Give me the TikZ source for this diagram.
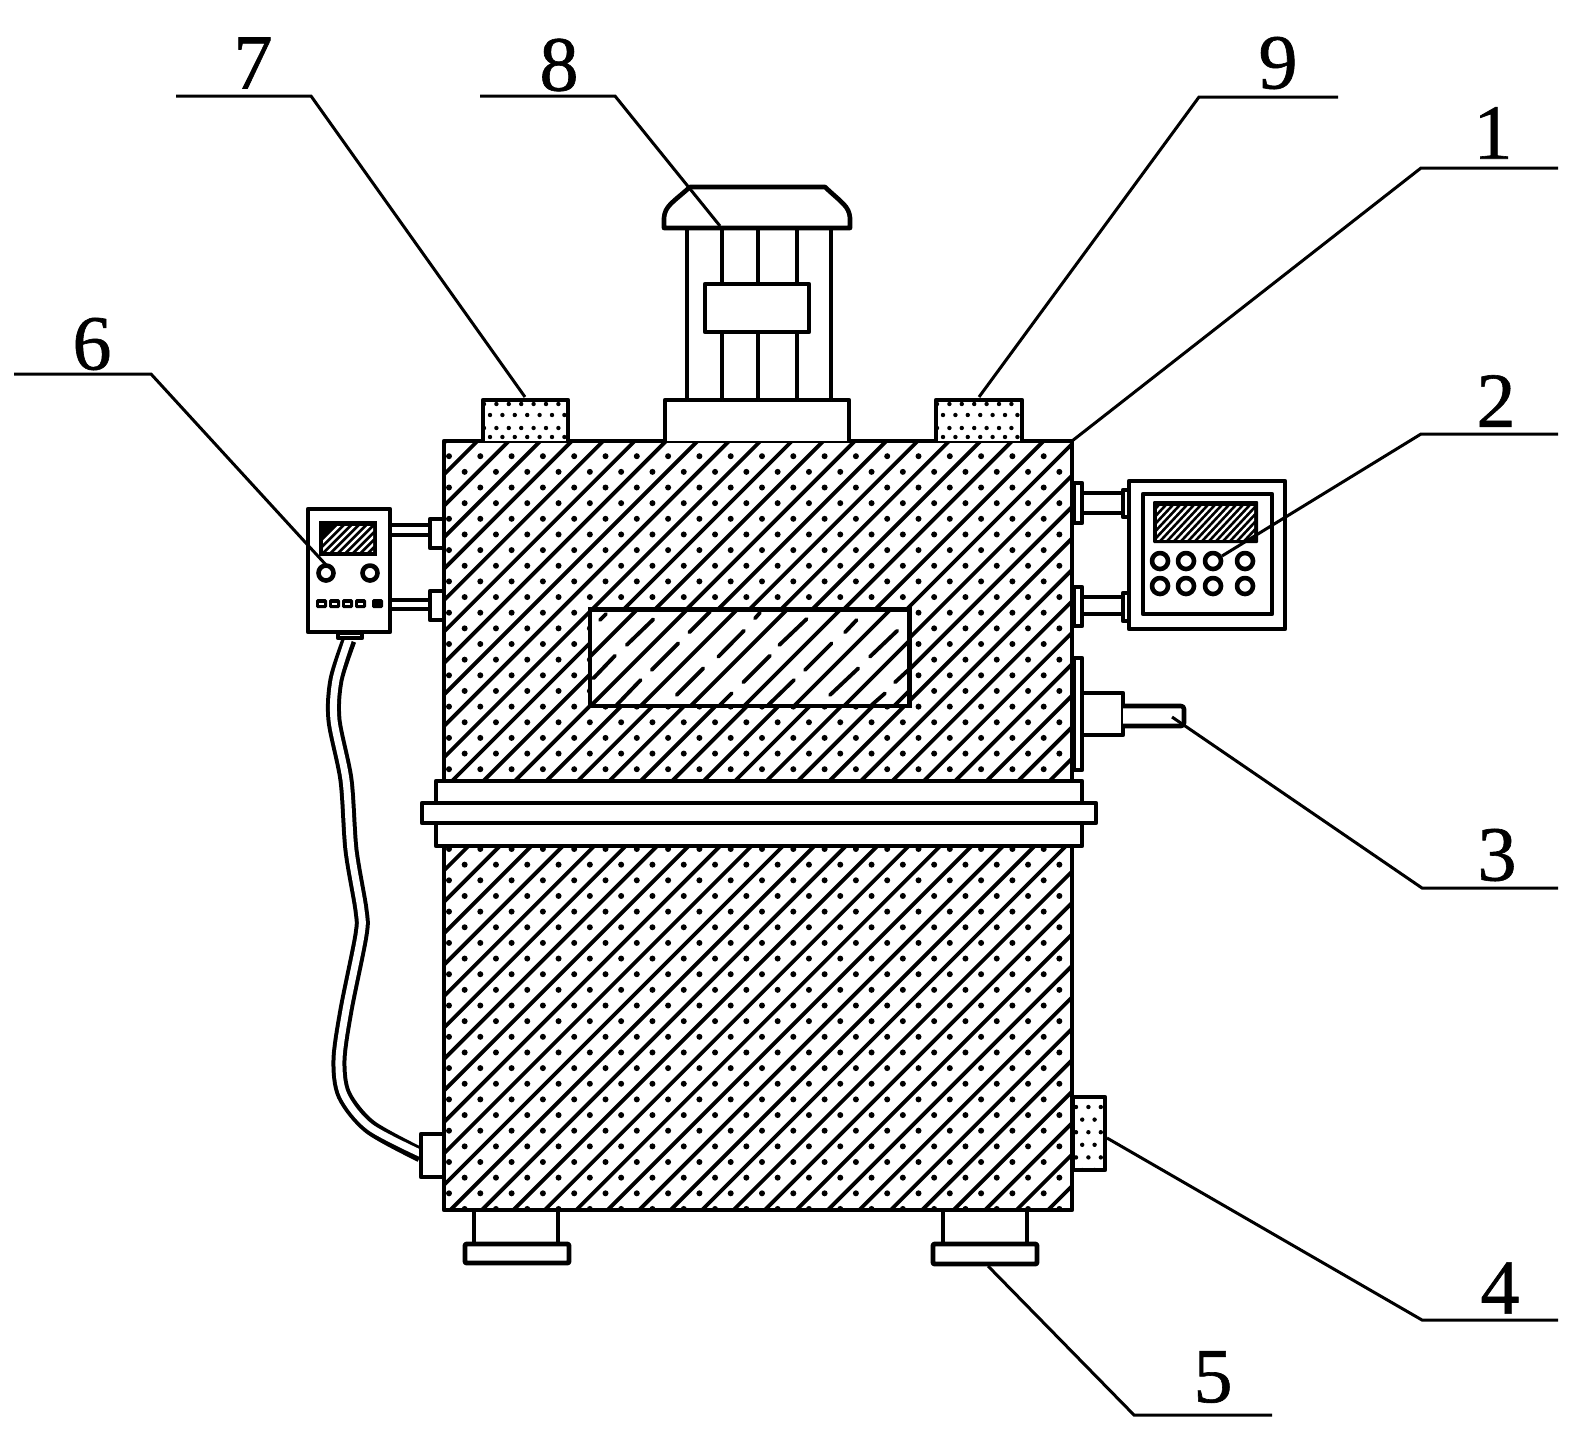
\documentclass[tikz,border=0pt]{standalone}
\usepackage{fontspec}
\setmainfont{Liberation Serif}
\newfontfamily\numfont[FakeBold=0.8]{Liberation Serif}
\tikzset{
  x=1pt,y=-1pt,
  part/.style={draw=black,line width=4.6pt,line join=round,fill=white},
  hatchline/.style={line width=3.8pt,black},
  leader/.style={draw=black,line width=3pt},
  dotrow/.style={black,line width=6pt,line cap=round,dash pattern=on 0pt off 31.3pt},
  smalldots/.style={black,line width=4.4pt,line cap=round,dash pattern=on 0pt off 12.4pt},
  num/.style={font=\numfont\fontsize{78}{78}\selectfont,inner sep=0pt,text=black},
}
% #1 x0, #2 y0, #3 x1, #4 y1, #5 first row y, #6 number of rows
\newcommand{\dotfield}[6]{%
  \begin{scope}
    \clip (#1,#2) rectangle (#3,#4);
    \foreach \r in {0,...,#6}{
      \pgfmathsetmacro{\yy}{#5+15.65*\r}
      \pgfmathsetmacro{\ofs}{mod(\r,2)==0 ? 0 : 15.65}
      \draw[dotrow] ({417.7+\ofs},\yy) -- (1100,\yy);
    }
  \end{scope}}
% #5 sum phase
\newcommand{\hatchfield}[5]{%
  \begin{scope}
    \clip (#1,#2) rectangle (#3,#4);
    \foreach \k in {0,...,50}{
      \pgfmathsetmacro{\s}{#5+31.45*\k}
      \draw[hatchline] ({\s-300},300) -- ({\s-1300},1300);
    }
  \end{scope}}
\begin{document}
\begin{tikzpicture}
\useasboundingbox (0,0) rectangle (1572,1430);
\fill[white] (0,0) rectangle (1572,1430);

% bodies
\dotfield{445}{442}{1071}{781}{456.2}{21}
\hatchfield{445}{442}{1071}{781}{887}
\dotfield{445}{846}{1071}{1210}{849}{23}
\hatchfield{445}{846}{1071}{1210}{1283}
\draw[part,fill=none] (444,441) rectangle (1072,781);
\draw[part,fill=none] (444,846) rectangle (1072,1210);

% window
\begin{scope}[shift={(570,590)},x=0.3333pt,y=-0.3333pt]
  \fill[white] (60,58) rectangle (1018,348);
  \begin{scope}
    \clip (60,58) rectangle (1018,348);
    \foreach \s in {110,260,410,560,710,870,1020,1170,1320}{
      \draw[hatchline] (\s-400,400) -- (\s+100,-100);
    }
    \foreach \a/\b/\c/\d in {90/90/108/72,70/265/135/197,170/165/250/88,140/345/212/270,245/240/325/160,358/127/420/65,320/315/400/235,445/200/522/122,555/85/570/68,450/345/485/310,520/277/600/197,628/165/710/87,595/345/672/270,705/240/785/160,825/127/860/90,780/315/865/235,900/200/982/122,905/345/945/310,975/277/1015/240}{
      \draw[hatchline,line cap=round] (\a,\b) -- (\c,\d);
    }
  \end{scope}
  \draw[black,line width=4.6pt] (60,58) rectangle (1018,348);
\end{scope}

% flange
\draw[part] (436,781) rectangle (1082,846);
\draw[part] (422,803) rectangle (1096,823);

% top boxes 7 and 9
\fill[white] (483,400) rectangle (568,441);
\fill[white] (936,400) rectangle (1022,441);
\begin{scope}
  \clip (483,400) rectangle (568,440);
  \foreach \yy/\ofs in {404/0,415/6,428/0,437/6}{\draw[smalldots] (484+\ofs,\yy) -- (568,\yy);}
\end{scope}
\begin{scope}
  \clip (936,400) rectangle (1022,440);
  \foreach \yy/\ofs in {404/0,415/6,428/0,437/6}{\draw[smalldots] (937+\ofs,\yy) -- (1022,\yy);}
\end{scope}
\draw[part,fill=none] (483,441) -- (483,400) -- (568,400) -- (568,441);
\draw[part,fill=none] (936,441) -- (936,400) -- (1022,400) -- (1022,441);

% motor
\draw[part] (665,441) -- (665,400) -- (849,400) -- (849,441);
\draw[part,line width=4pt] (687,228) -- (687,400) (722,228) -- (722,400) (758,228) -- (758,400) (797,228) -- (797,400) (831,228) -- (831,400);
\draw[part] (705,284) rectangle (809,332);
\draw[part] (664,228) -- (664,218) .. controls (665,206) and (672,203) .. (690,187) -- (825,187) .. controls (842,203) and (849,206) .. (850,218) -- (850,228) -- cycle;

% left control box
\draw[part] (389,525) rectangle (430,535);
\draw[part] (389,600) rectangle (430,609);
\draw[part] (430,519) rectangle (444,548);
\draw[part] (430,591) rectangle (444,620);
\draw[part] (308,509) rectangle (390,632);
\fill[black] (319,521) rectangle (377,556);
\begin{scope}
  \clip (323,526) rectangle (373,551);
  \foreach \k in {0,...,12}{
    \draw[white,line width=2.4pt] ({305+\k*7.5},560) -- ({345+\k*7.5},520);
  }
\end{scope}
\draw[part] (326,573) circle (7.5);
\draw[part] (370,573) circle (7.5);
\foreach \xx in {321,334,347,360}{\fill[black,rounded corners=1.5pt] (\xx-5,599) rectangle (\xx+6,608);\fill[white] (\xx-2,603) rectangle (\xx+3,604.5);}
\fill[black,rounded corners=1.5pt] (372,599) rectangle (383,608);

% cable
\draw[black,line width=15pt] plot[smooth,tension=0.5] coordinates {(349,640) (336,680) (334,720) (346,780) (351,850) (361,910) (361,935) (346,1010) (339,1060) (344,1095) (370,1127) (421,1155)};
\draw[white,line width=7pt] plot[smooth,tension=0.5] coordinates {(349,638) (336,680) (334,720) (346,780) (351,850) (361,910) (361,935) (346,1010) (339,1060) (344,1095) (370,1127) (424,1155)};
\draw[part] (338,633) rectangle (362,638);
\draw[part] (421,1134) rectangle (444,1177);

% right control box
\draw[part] (1082,493) rectangle (1123,513);
\draw[part] (1082,597) rectangle (1123,614);
\draw[part] (1074,483) rectangle (1082,523);
\draw[part] (1074,587) rectangle (1082,626);
\draw[part] (1123,490) rectangle (1129,517);
\draw[part] (1123,593) rectangle (1129,621);
\draw[part] (1129,481) rectangle (1285,629);
\draw[part] (1143,494) rectangle (1272,614);
\fill[black,rounded corners=1pt] (1153,501) rectangle (1258,543);
\begin{scope}
  \clip (1157,506) rectangle (1254,539);
  \foreach \k in {0,...,20}{
    \draw[white,line width=2.2pt] ({1125+\k*7},545) -- ({1167+\k*7},500);
  }
\end{scope}
\foreach \xx in {1160,1186,1213,1245}{
  \draw[part] (\xx,561) circle (8);
  \draw[part] (\xx,586) circle (8);
}

% part 3
\draw[part] (1074,658) rectangle (1082,770);
\draw[part] (1082,693) rectangle (1123,735);
\draw[part,rounded corners=3pt] (1123,706) -- (1184,706) -- (1184,726) -- (1123,726);

% part 4 and feet
\draw[part] (1073,1097) rectangle (1105,1170);
\begin{scope}
  \clip (1075,1099) rectangle (1103,1168);
  \foreach \r in {0,...,5}{\pgfmathsetmacro{\yy}{1107+\r*12.6}\pgfmathsetmacro{\ofs}{mod(\r,2)*6.2}
    \draw[smalldots] (1076+\ofs,\yy) -- (1104,\yy);}
\end{scope}
\draw[part] (474,1210) rectangle (558,1244);
\draw[part,rounded corners=1pt] (465,1244) rectangle (569,1263);
\draw[part] (943,1210) rectangle (1027,1244);
\draw[part,rounded corners=1pt] (933,1244) rectangle (1037,1264);

% leaders
\coordinate (l7a) at (176,96); \coordinate (l7b) at (311,96); \coordinate (l7c) at (525,397);
\coordinate (l8a) at (480,96); \coordinate (l8b) at (615,96); \coordinate (l8c) at (720,226);
\coordinate (l9a) at (1338,97); \coordinate (l9b) at (1199,97); \coordinate (l9c) at (979,397);
\coordinate (l1a) at (1558,168); \coordinate (l1b) at (1421,168); \coordinate (l1c) at (1072,441);
\coordinate (l2a) at (1558,434); \coordinate (l2b) at (1421,434); \coordinate (l2c) at (1222,556);
\coordinate (l3a) at (1558,888); \coordinate (l3b) at (1422,888); \coordinate (l3c) at (1172,717);
\coordinate (l4a) at (1558,1320); \coordinate (l4b) at (1422,1320); \coordinate (l4c) at (1107,1138);
\coordinate (l5a) at (1272,1415); \coordinate (l5b) at (1134,1415); \coordinate (l5c) at (988,1266);
\coordinate (l6a) at (14,374); \coordinate (l6b) at (151,374); \coordinate (l6c) at (327,566);
\foreach \n in {7,8,9,1,2,3,4,5,6}{\draw[leader] (l\n a) -- (l\n b) -- (l\n c);}

% labels
\node[num] (n7) at (253,63) {7};
\node[num] (n8) at (559,65) {8};
\node[num] (n9) at (1278,63) {9};
\node[num] (n1) at (1493,133) {1};
\node[num] (n2) at (1496,401) {2};
\node[num] (n3) at (1497,855) {3};
\node[num] (n4) at (1500,1288) {4};
\node[num] (n5) at (1213,1377) {5};
\node[num] (n6) at (92,344) {6};
\end{tikzpicture}
\end{document}
